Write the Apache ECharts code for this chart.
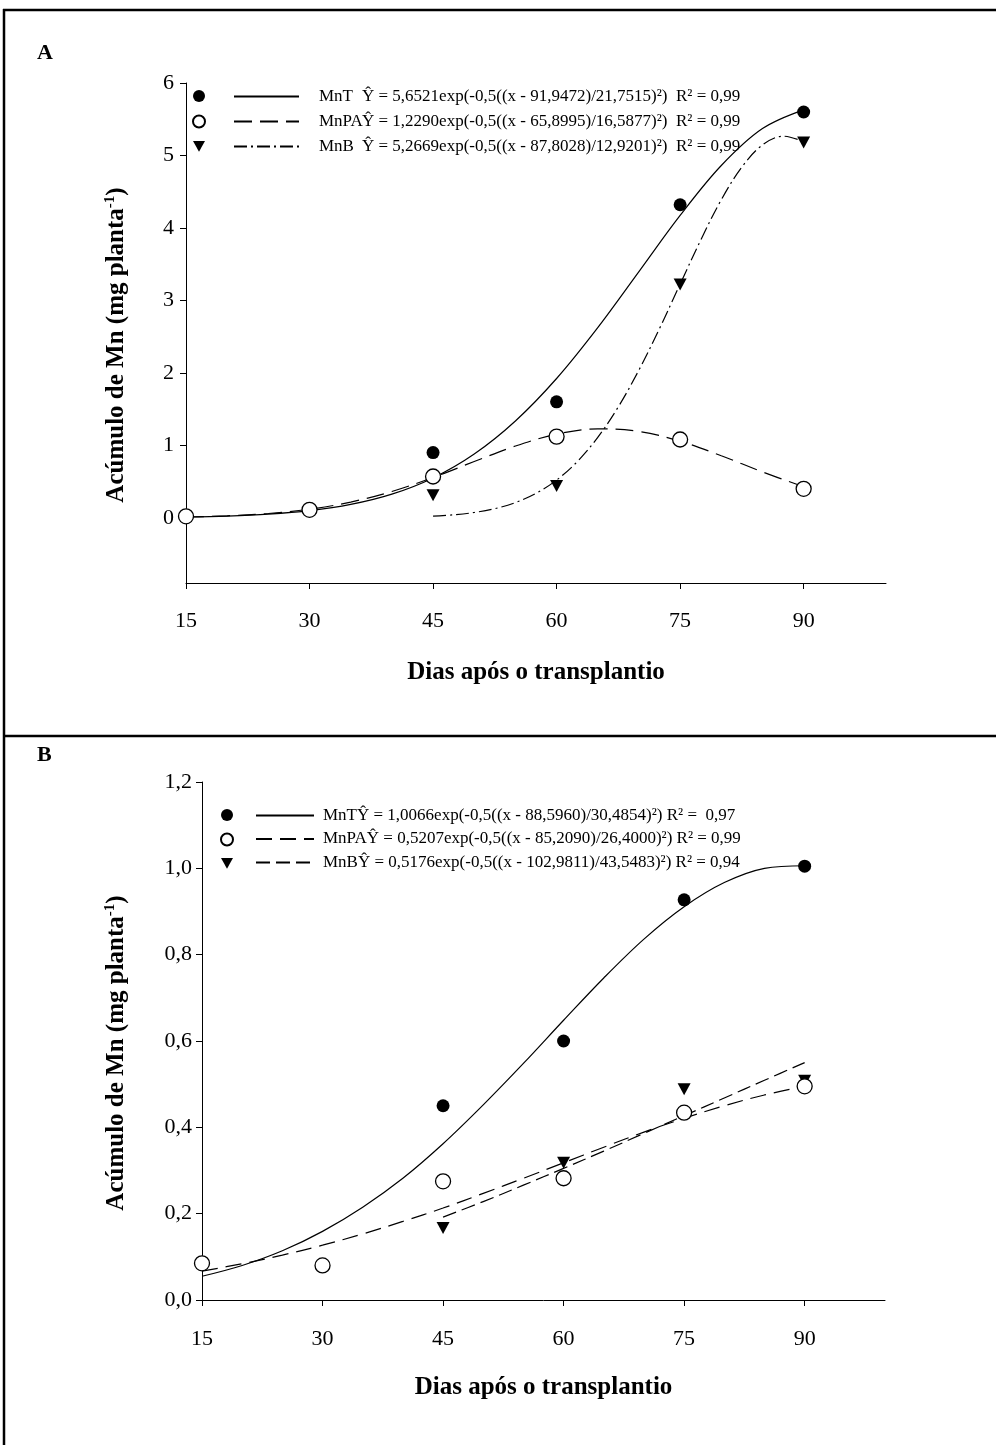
<!DOCTYPE html>
<html>
<head>
<meta charset="utf-8">
<script src="https://cdn.jsdelivr.net/npm/echarts@6/dist/echarts.min.js"></script>
<style>
  html, body { margin: 0; padding: 0; background: #fff; }
  #chart { width: 996px; height: 1445px; }
</style>
</head>
<body>
<div id="chart"></div>
<script>
// Sampling days and axis ticks
const days = [15, 30, 45, 60, 75, 90];
const xTicks = [15, 30, 45, 60, 75, 90];
const yTicksA = [0, 1, 2, 3, 4, 5, 6];

// Panel A – observed Mn accumulation (mg planta-1)
const mntA  = [0.02, 0.11, 0.90, 1.60, 4.32, 5.60];
const mnpaA = [0.02, 0.11, 0.57, 1.12, 1.08, 0.40];
const mnbA  = [null, null, 0.31, 0.44, 3.22, 5.18];

// Panel A – fitted curves
const fitX = [15, 20, 25, 30, 35, 40, 45, 50, 55, 60, 65, 70, 75, 80, 85, 90];
const mntFitA  = [0.011, 0.024, 0.050, 0.098, 0.184, 0.326, 0.550, 0.880, 1.336, 1.922, 2.624, 3.397, 4.172, 4.861, 5.371, 5.630];
const mnpaFitA = [0.011, 0.027, 0.059, 0.118, 0.217, 0.363, 0.556, 0.776, 0.990, 1.154, 1.227, 1.192, 1.057, 0.856, 0.633, 0.428];
const mnbFitXA = [45, 47.5, 50, 52.5, 55, 57.5, 60, 62.5, 65, 67.5, 70, 72.5, 75, 77.5, 80, 82.5, 85, 87.5, 90];
const mnbFitA  = [0.022, 0.041, 0.073, 0.126, 0.210, 0.337, 0.520, 0.774, 1.110, 1.532, 2.039, 2.612, 3.224, 3.832, 4.389, 4.841, 5.145, 5.266, 5.191];

// Panel B – observed Mn accumulation (mg planta-1)
const yTicksB = [0, 0.2, 0.4, 0.6, 0.8, 1.0, 1.2];
const mntB  = [0.085, 0.080, 0.450, 0.600, 0.927, 1.005];
const mnpaB = [0.085, 0.080, 0.275, 0.282, 0.434, 0.495];
const mnbB  = [null, null, 0.167, 0.318, 0.488, 0.508];

// Panel B – fitted curves
const mntFitB  = [0.055, 0.080, 0.114, 0.159, 0.215, 0.282, 0.362, 0.452, 0.548, 0.648, 0.746, 0.836, 0.911, 0.967, 1.000, 1.006];
const mnpaFitB = [0.067, 0.084, 0.104, 0.127, 0.153, 0.182, 0.213, 0.247, 0.282, 0.318, 0.354, 0.389, 0.421, 0.450, 0.475, 0.495];
const mnbFitXB = [45, 50, 55, 60, 65, 70, 75, 80, 85, 90];
const mnbFitB  = [0.192, 0.228, 0.266, 0.305, 0.345, 0.386, 0.427, 0.468, 0.509, 0.550];

// Legend equations
const eqA = {
  'A MnT':  ['MnT',  'Ŷ = 5,6521exp(-0,5((x - 91,9472)/21,7515)²)  R² = 0,99'],
  'A MnPA': ['MnPA', 'Ŷ = 1,2290exp(-0,5((x - 65,8995)/16,5877)²)  R² = 0,99'],
  'A MnB':  ['MnB',  'Ŷ = 5,2669exp(-0,5((x - 87,8028)/12,9201)²)  R² = 0,99']
};
const eqB = {
  'B MnT':  'MnTŶ = 1,0066exp(-0,5((x - 88,5960)/30,4854)²) R² =  0,97',
  'B MnPA': 'MnPAŶ = 0,5207exp(-0,5((x - 85,2090)/26,4000)²) R² = 0,99',
  'B MnB':  'MnBŶ = 0,5176exp(-0,5((x - 102,9811)/43,5483)²) R² = 0,94'
};

const SERIF = '"Liberation Serif", "Times New Roman", serif';
const pairs = (xs, ys) => xs.map((x, i) => [x, ys[i]]).filter(p => p[1] !== null);

const solidDot = { symbol: 'circle', symbolSize: 13, itemStyle: { color: '#000', opacity: 1 } };
const openDot  = { symbol: 'circle', symbolSize: 15, itemStyle: { color: '#fff', borderColor: '#000', borderWidth: 1.3, opacity: 1 } };
const triDown  = { symbol: 'path://M0,0L10,0L5,9Z', symbolSize: [13, 12], itemStyle: { color: '#000', opacity: 1 } };

function fitLine(name, gridIdx, xs, ys, dash) {
  return {
    name, type: 'line', xAxisIndex: gridIdx, yAxisIndex: gridIdx,
    data: pairs(xs, ys), symbol: 'none', smooth: 0.35, z: 2,
    color: '#000',
    lineStyle: { color: '#000', width: 1.2, type: dash }
  };
}
function obs(name, gridIdx, ys, style, z) {
  return Object.assign({
    name, type: 'scatter', xAxisIndex: gridIdx, yAxisIndex: gridIdx,
    data: pairs(days, ys), z
  }, style);
}

function xAxis(gridIdx, gap, labelMargin) {
  return {
    type: 'value', gridIndex: gridIdx, min: 15, max: 100,
    name: 'Dias após o transplantio', nameLocation: 'middle', nameGap: gap,
    nameTextStyle: { fontFamily: SERIF, fontSize: 25, fontWeight: 'bold', color: '#000' },
    axisLine: { show: true, onZero: false, lineStyle: { color: '#000', width: 1 } },
    axisTick: { show: true, inside: false, length: 6, customValues: xTicks, lineStyle: { color: '#000' } },
    axisLabel: { customValues: xTicks, margin: labelMargin, fontFamily: SERIF, fontSize: 22, color: '#000' },
    splitLine: { show: false }
  };
}
function yName() {
  return '{t|Acúmulo de Mn (mg planta}{s|-1}{t|)}';
}
const yNameStyle = {
  padding: [0, 24, 0, 0],
  rich: {
    t: { fontFamily: SERIF, fontSize: 25, fontWeight: 'bold', color: '#000', lineHeight: 28 },
    s: { fontFamily: SERIF, fontSize: 15, fontWeight: 'bold', color: '#000', lineHeight: 14, verticalAlign: 'top' }
  }
};

// Legend rows: markers in one column, line samples with their equations in another
function markerLegend(left, top, gap, names) {
  return {
    left, top, padding: 0, orient: 'vertical', itemWidth: 12, itemHeight: 12, itemGap: gap,
    selectedMode: false, data: names, formatter: () => '',
    textStyle: { fontSize: 12, lineHeight: 12 }
  };
}

const chart = echarts.init(document.getElementById('chart'), null, { renderer: 'canvas' });

chart.setOption({
  animation: false,
  backgroundColor: '#fff',
  title: [
    { text: 'A', left: 32, top: 37, textStyle: { fontFamily: SERIF, fontSize: 22, fontWeight: 'bold', color: '#000' } },
    { text: 'B', left: 32, top: 739, textStyle: { fontFamily: SERIF, fontSize: 22, fontWeight: 'bold', color: '#000' } }
  ],
  grid: [
    { left: 186, top: 83, width: 700, height: 500 },
    { left: 202, top: 782, width: 683, height: 518 }
  ],
  xAxis: [xAxis(0, 77, 27), xAxis(1, 75, 28)],
  yAxis: [
    {
      type: 'value', gridIndex: 0, min: -0.9, max: 6,
      name: yName(), nameLocation: 'middle', nameGap: 55, nameRotate: 90, nameTextStyle: yNameStyle,
      axisLine: { show: true, onZero: false, lineStyle: { color: '#000', width: 1 } },
      axisTick: { show: true, length: 6, customValues: yTicksA, lineStyle: { color: '#000' } },
      axisLabel: { customValues: yTicksA, margin: 12, fontFamily: SERIF, fontSize: 22, color: '#000' },
      splitLine: { show: false }
    },
    {
      type: 'value', gridIndex: 1, min: 0, max: 1.2, interval: 0.2,
      name: yName(), nameLocation: 'middle', nameGap: 71, nameRotate: 90, nameTextStyle: yNameStyle,
      axisLine: { show: true, onZero: false, lineStyle: { color: '#000', width: 1 } },
      axisTick: { show: true, length: 6, customValues: yTicksB, lineStyle: { color: '#000' } },
      axisLabel: { customValues: yTicksB, margin: 10, fontFamily: SERIF, fontSize: 22, color: '#000',
        formatter: v => v.toFixed(1).replace('.', ',') },
      splitLine: { show: false }
    }
  ],
  legend: [
    markerLegend(192, 90, 12.5, ['A MnT obs', 'A MnPA obs', 'A MnB obs']),
    {
      left: 233, top: 88, padding: 0, orient: 'vertical', itemWidth: 65, itemHeight: 12, itemGap: 8,
      selectedMode: false, data: ['A MnT', 'A MnPA', 'A MnB'],
      itemStyle: { opacity: 0 },
      formatter: n => '{n|' + eqA[n][0] + '}{e|' + eqA[n][1] + '}',
      textStyle: {
        fontFamily: SERIF, fontSize: 17, color: '#000', lineHeight: 12,
        rich: {
          n: { fontFamily: SERIF, fontSize: 17, color: '#000', width: 43, padding: [0, 0, 0, 15], lineHeight: 12 },
          e: { fontFamily: SERIF, fontSize: 17, color: '#000', lineHeight: 12 }
        }
      }
    },
    markerLegend(220, 809, 11.5, ['B MnT obs', 'B MnPA obs', 'B MnB obs']),
    {
      left: 255, top: 807, padding: 0, orient: 'vertical', itemWidth: 58, itemHeight: 12, itemGap: 6.5,
      selectedMode: false, data: ['B MnT', 'B MnPA', 'B MnB'],
      itemStyle: { opacity: 0 },
      formatter: n => eqB[n],
      textStyle: { fontFamily: SERIF, fontSize: 17, color: '#000', lineHeight: 12, padding: [0, 0, 0, 4] }
    }
  ],
  graphic: [
    { type: 'line', shape: { x1: 3, y1: 10, x2: 996, y2: 10 }, style: { stroke: '#000', lineWidth: 2.5 } },
    { type: 'line', shape: { x1: 4, y1: 9, x2: 4, y2: 1445 }, style: { stroke: '#000', lineWidth: 2.5 } },
    { type: 'line', shape: { x1: 3, y1: 736, x2: 996, y2: 736 }, style: { stroke: '#000', lineWidth: 2.5 } }
  ],
  series: [
    fitLine('A MnT', 0, fitX, mntFitA, 'solid'),
    fitLine('A MnPA', 0, fitX, mnpaFitA, [18, 8]),
    fitLine('A MnB', 0, mnbFitXA, mnbFitA, [13, 4, 2, 4]),
    obs('A MnT obs', 0, mntA, solidDot, 3),
    obs('A MnB obs', 0, mnbA, triDown, 3),
    obs('A MnPA obs', 0, mnpaA, openDot, 4),

    fitLine('B MnT', 1, fitX, mntFitB, 'solid'),
    fitLine('B MnPA', 1, fitX, mnpaFitB, [16, 8]),
    fitLine('B MnB', 1, mnbFitXB, mnbFitB, [14, 6]),
    obs('B MnT obs', 1, mntB, solidDot, 3),
    obs('B MnB obs', 1, mnbB, triDown, 3),
    obs('B MnPA obs', 1, mnpaB, openDot, 4)
  ]
});
</script>
</body>
</html>
